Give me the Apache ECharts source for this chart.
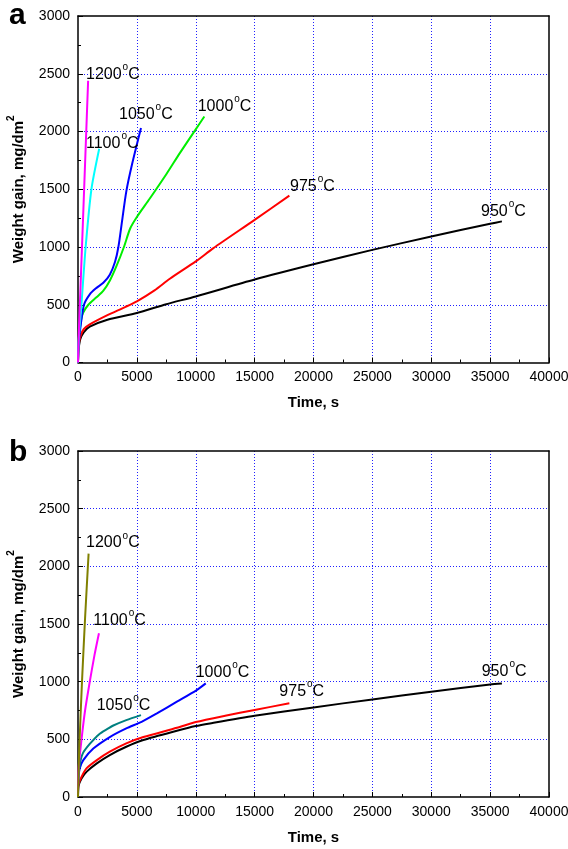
<!DOCTYPE html>
<html>
<head>
<meta charset="utf-8">
<script src="https://cdn.jsdelivr.net/npm/echarts@6/dist/echarts.min.js"></script>
<style>
html, body { margin: 0; padding: 0; background: #fff; }
#chart { width: 568px; height: 849px; }
</style>
</head>
<body>
<div id="chart"></div>
<script>
// panel a: weight gain (mg/dm2) vs time (s)
const a1200 = [[0, 0], [50, 200], [200, 620], [430, 1250], [650, 1860], [860, 2440]];
const a1100 = [[0, 0], [60, 200], [290, 500], [650, 1000], [1140, 1500], [1800, 1850]];
const a1050 = [[0, 0], [50, 150], [200, 300], [510, 500], [1000, 590], [1500, 640], [2150, 690], [2700, 760], [3140, 870], [3430, 1000], [3750, 1230], [4100, 1480], [4600, 1720], [5350, 2030]];
const a1000 = [[0, 0], [60, 200], [250, 360], [430, 430], [880, 500], [1570, 565], [2140, 620], [2710, 710], [3290, 840], [3900, 1000], [4430, 1160], [5000, 1260], [6100, 1420], [7500, 1630], [8660, 1815], [9940, 2010], [10730, 2130]];
const a975 = [[0, 0], [30, 100], [100, 180], [250, 240], [500, 290], [1000, 330], [2500, 410], [4000, 480], [5000, 530], [6500, 625], [7800, 725], [10000, 875], [11500, 990], [15000, 1235], [17950, 1445]];
const a950 = [[0, 0], [30, 90], [100, 155], [200, 205], [500, 262], [1000, 310], [2500, 370], [5000, 428], [7500, 505], [10000, 572], [15000, 718], [20000, 850], [25000, 975], [30000, 1091], [35000, 1201], [36000, 1222]];

// panel b
const b1200 = [[0, 0], [100, 400], [340, 1000], [600, 1550], [900, 2110]];
const b1100 = [[0, 0], [50, 250], [300, 500], [600, 750], [1000, 1000], [1400, 1230], [1780, 1420]];
const b1050 = [[0, 0], [30, 150], [150, 280], [420, 380], [1000, 460], [1800, 545], [2500, 590], [3000, 620], [4100, 667], [5350, 710]];
const b1000 = [[0, 0], [30, 150], [150, 250], [450, 320], [1300, 420], [2700, 520], [4100, 595], [5400, 652], [6700, 725], [8400, 826], [10080, 927], [10850, 985]];
const b975 = [[0, 0], [30, 100], [300, 175], [740, 250], [1600, 320], [2700, 393], [4100, 465], [5550, 520], [8400, 600], [10000, 650], [12500, 705], [15000, 755], [17950, 812]];
const b950 = [[0, 0], [30, 90], [300, 160], [740, 220], [1600, 292], [2700, 364], [4100, 436], [5550, 494], [8400, 574], [10000, 615], [11200, 638], [15000, 704], [20000, 777], [25000, 846], [30000, 912], [35000, 976], [36000, 985]];

// curve labels: [time, weight, temperature]
const aLabels = [[680, 2510, '1200'], [680, 1912, '1100'], [3482, 2163, '1050'], [10166, 2232, '1000'], [18005, 1539, '975'], [34227, 1328, '950']];
const bLabels = [[680, 2220, '1200'], [1300, 1548, '1100'], [1588, 812, '1050'], [9996, 1100, '1000'], [17100, 933, '975'], [34285, 1106, '950']];

const FONT = '"Liberation Sans", Arial, Helvetica, sans-serif';

const chart = echarts.init(document.getElementById('chart'));

const makeXAxis = (gi) => [{
    gridIndex: gi,
    type: 'value',
    min: 0,
    max: 40000,
    interval: 5000,
    axisLine: { show: true, lineStyle: { color: '#000', width: 1.5 } },
    axisTick: { show: true, inside: true, length: 5, lineStyle: { color: '#000', width: 1 } },
    minorTick: { show: true, splitNumber: 2, length: 3, lineStyle: { color: '#000', width: 1 } },
    axisLabel: { color: '#000', fontSize: 14, margin: 8, fontFamily: FONT, formatter: (v) => String(v) },
    splitLine: { show: true, showMinLine: false, showMaxLine: false, lineStyle: { color: '#2020ff', type: [1, 2], width: 1 } },
    name: 'Time, s',
    nameLocation: 'middle',
    nameGap: 33,
    nameTextStyle: { color: '#000', fontSize: 15, fontWeight: 'bold', fontFamily: FONT }
}, {
    gridIndex: gi,
    type: 'value',
    position: 'top',
    min: 0,
    max: 40000,
    axisLine: { show: true, onZero: false, lineStyle: { color: '#000', width: 1.5 } },
    axisTick: { show: false },
    axisLabel: { show: false },
    splitLine: { show: false }
}];

const makeYAxis = (gi) => [{
    gridIndex: gi,
    type: 'value',
    min: 0,
    max: 3000,
    interval: 500,
    axisLine: { show: true, lineStyle: { color: '#000', width: 1.5 } },
    axisTick: { show: true, inside: true, length: 5, lineStyle: { color: '#000', width: 1 } },
    minorTick: { show: true, splitNumber: 2, length: 3, lineStyle: { color: '#000', width: 1 } },
    axisLabel: { color: '#000', fontSize: 14, margin: 8, fontFamily: FONT, formatter: (v) => String(v) },
    splitLine: { show: true, showMinLine: false, showMaxLine: false, lineStyle: { color: '#2020ff', type: [1, 2], width: 1 } },
    name: '{t|Weight gain, mg/dm}{s|2}',
    nameLocation: 'middle',
    nameGap: 52,
    nameRotate: 90,
    nameTextStyle: {
        rich: {
            t: { color: '#000', fontSize: 15, fontWeight: 'bold', fontFamily: FONT, lineHeight: 20, verticalAlign: 'bottom' },
            s: { color: '#000', fontSize: 10, fontWeight: 'bold', fontFamily: FONT, lineHeight: 20, verticalAlign: 'top' }
        }
    }
}, {
    gridIndex: gi,
    type: 'value',
    position: 'right',
    min: 0,
    max: 3000,
    axisLine: { show: true, onZero: false, lineStyle: { color: '#000', width: 1.5 } },
    axisTick: { show: false },
    axisLabel: { show: false },
    splitLine: { show: false }
}];

const lineSeries = (name, data, color, gi) => ({
    name: name,
    type: 'line',
    xAxisIndex: gi * 2,
    yAxisIndex: gi * 2,
    data: data,
    smooth: 0.25,
    showSymbol: false,
    lineStyle: { color: color, width: 2 },
    itemStyle: { color: color },
    z: 3
});

const labelSeries = (data, gi) => ({
    type: 'scatter',
    xAxisIndex: gi * 2,
    yAxisIndex: gi * 2,
    data: data,
    symbolSize: 0,
    itemStyle: { color: '#000', opacity: 1 },
    silent: true,
    label: {
        show: true,
        position: 'right',
        distance: 0,
        color: '#000',
        opacity: 1,
        textBorderWidth: 0,
        formatter: (p) => `{n|${p.data[2]}}{s|o}{n|C}`,
        rich: {
            n: { color: '#000', fontSize: 16, fontFamily: FONT, lineHeight: 20, verticalAlign: 'bottom' },
            s: { color: '#000', fontSize: 10, fontFamily: FONT, lineHeight: 20, verticalAlign: 'top', padding: [0, 0, 0, 1] }
        }
    },
    z: 4
});

const option = {
    animation: false,
    backgroundColor: '#fff',
    title: [
        { text: 'a', left: 4, top: -4, textStyle: { fontSize: 30, fontWeight: 'bold', color: '#000', fontFamily: FONT } },
        { text: 'b', left: 4, top: 433, textStyle: { fontSize: 30, fontWeight: 'bold', color: '#000', fontFamily: FONT } }
    ],
    grid: [
        { left: 78, top: 16, width: 471, height: 346.5, containLabel: false, outerBoundsMode: 'none' },
        { left: 78, top: 451, width: 471, height: 346, containLabel: false, outerBoundsMode: 'none' }
    ],
    xAxis: [...makeXAxis(0), ...makeXAxis(1)],
    yAxis: [...makeYAxis(0), ...makeYAxis(1)],
    series: [
        lineSeries('950°C', a950, '#000000', 0),
        lineSeries('975°C', a975, '#ff0000', 0),
        lineSeries('1000°C', a1000, '#00ee00', 0),
        lineSeries('1050°C', a1050, '#0000ff', 0),
        lineSeries('1100°C', a1100, '#00ffff', 0),
        lineSeries('1200°C', a1200, '#ff00ff', 0),
        labelSeries(aLabels, 0),
        lineSeries('950°C', b950, '#000000', 1),
        lineSeries('975°C', b975, '#ff0000', 1),
        lineSeries('1000°C', b1000, '#0000ff', 1),
        lineSeries('1050°C', b1050, '#008080', 1),
        lineSeries('1100°C', b1100, '#ff00ff', 1),
        lineSeries('1200°C', b1200, '#808000', 1),
        labelSeries(bLabels, 1)
    ]
};

chart.setOption(option);
window.addEventListener('resize', () => chart.resize());
</script>
</body>
</html>
